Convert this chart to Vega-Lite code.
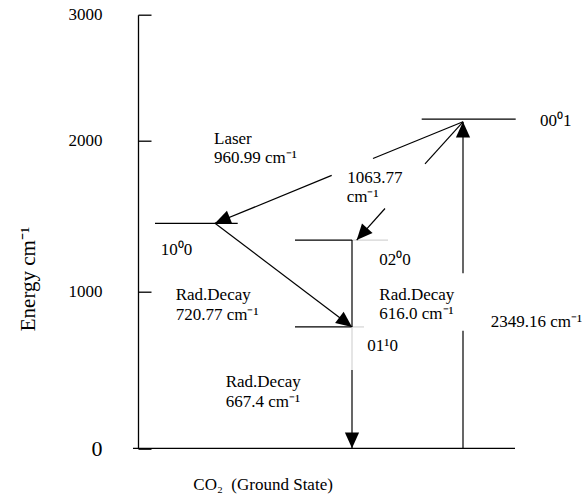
{
  "$schema": "https://vega.github.io/schema/vega-lite/v6.json",
  "width": 447,
  "height": 433.6,
  "autosize": {"type": "none"},
  "padding": {"left": 138, "top": 14.7, "right": 0, "bottom": 48.7},
  "background": "white",
  "config": {"view": {"stroke": null}, "font": "Liberation Serif"},
  "datasets": {
    "segments": [
      {"part": "ground state", "x": -5, "x2": 377, "y": 0, "y2": 0, "kind": "line"},
      {"part": "00^0 1", "x": 283.7, "x2": 377.7, "y": 2172, "y2": 2172, "kind": "line"},
      {"part": "10^0 0", "x": 17, "x2": 99.7, "y": 1453, "y2": 1453, "kind": "line"},
      {"part": "02^0 0", "x": 157, "x2": 214, "y": 1342, "y2": 1342, "kind": "line"},
      {"part": "02^0 0 tail", "x": 214, "x2": 250, "y": 1342, "y2": 1342, "kind": "trace"},
      {"part": "01^1 0", "x": 157, "x2": 214, "y": 775, "y2": 775, "kind": "line"},
      {"part": "01^1 0 tail", "x": 214, "x2": 226, "y": 775, "y2": 775, "kind": "trace"},
      {"part": "laser upper", "x": 325, "x2": 235, "y": 2150, "y2": 1882, "kind": "line"},
      {"part": "laser lower", "x": 193.7, "x2": 77, "y": 1770, "y2": 1453, "kind": "line"},
      {"part": "1063.77 upper", "x": 325, "x2": 287, "y": 2150, "y2": 1846, "kind": "line"},
      {"part": "1063.77 lower", "x": 247, "x2": 218.7, "y": 1551, "y2": 1342, "kind": "line"},
      {"part": "720.77 decay", "x": 77, "x2": 214, "y": 1453, "y2": 775, "kind": "line"},
      {"part": "616.0 decay", "x": 214, "x2": 214, "y": 1342, "y2": 775, "kind": "line"},
      {"part": "667.4 decay faint", "x": 214, "x2": 214, "y": 775, "y2": 500, "kind": "trace"},
      {"part": "667.4 decay", "x": 214, "x2": 214, "y": 500, "y2": 0, "kind": "line"},
      {"part": "pump lower", "x": 325, "x2": 325, "y": 0, "y2": 750, "kind": "line"},
      {"part": "pump upper", "x": 325, "x2": 325, "y": 1122, "y2": 2150, "kind": "line"}
    ],
    "heads": [
      {"transition": "laser 960.99", "x": 77, "y": 1453, "heading": 247.75},
      {"transition": "1063.77", "x": 218.7, "y": 1342, "heading": 222},
      {"transition": "720.77", "x": 214, "y": 775, "heading": 127},
      {"transition": "667.4", "x": 214, "y": 0, "heading": 180},
      {"transition": "2349.16", "x": 325, "y": 2150, "heading": 0}
    ],
    "labels": [
      {"text": "Laser", "x": 76, "y": 1981},
      {"text": "960.99 cm⁻¹", "x": 76, "y": 1850},
      {"text": "1063.77", "x": 209.3, "y": 1718},
      {"text": "cm⁻¹", "x": 208.7, "y": 1596},
      {"text": "10⁰0", "x": 22.7, "y": 1243},
      {"text": "02⁰0", "x": 241.3, "y": 1177},
      {"text": "Rad.Decay", "x": 37.7, "y": 947},
      {"text": "720.77 cm⁻¹", "x": 37.7, "y": 819},
      {"text": "Rad.Decay", "x": 241.3, "y": 947},
      {"text": "616.0 cm⁻¹", "x": 241.3, "y": 824},
      {"text": "2349.16 cm⁻¹", "x": 352.7, "y": 777},
      {"text": "01¹0", "x": 229.3, "y": 623},
      {"text": "Rad.Decay", "x": 87.7, "y": 391},
      {"text": "667.4 cm⁻¹", "x": 87.7, "y": 264},
      {"text": "00⁰1", "x": 402, "y": 2117},
      {"text": "CO₂\u00a0 (Ground State)", "x": 55.3, "y": -266}
    ]
  },
  "layer": [
    {
      "data": {"name": "segments"},
      "mark": {"type": "rule", "strokeWidth": 1.2},
      "encoding": {
        "x": {"field": "x", "type": "quantitative", "scale": {"domain": [0, 447], "nice": false, "zero": false}, "axis": null},
        "x2": {"field": "x2"},
        "y": {
          "field": "y",
          "type": "quantitative",
          "scale": {"domain": [0, 1000, 2000, 3000], "range": [433.6, 277, 126, 0], "nice": false, "zero": false},
          "axis": {
            "values": [0, 1000, 2000, 3000],
            "format": "d",
            "grid": false,
            "domainColor": "black",
            "domainWidth": 1.3,
            "tickColor": "black",
            "tickWidth": 1.3,
            "tickSize": -13,
            "labelPadding": 49,
            "labelFont": "Liberation Serif",
            "labelFontSize": {"expr": "datum.value === 0 ? 22 : 17"},
            "labelColor": "black",
            "labelBaseline": "middle",
            "title": "Energy cm⁻¹",
            "titleFont": "Liberation Serif",
            "titleFontSize": 21,
            "titleFontWeight": "normal",
            "titleColor": "black",
            "titleAngle": -90,
            "titleX": -110,
            "titleY": 263.8,
            "titleAlign": "center",
            "titleBaseline": "middle"
          }
        },
        "y2": {"field": "y2"},
        "color": {"field": "kind", "type": "nominal", "scale": {"domain": ["line", "trace"], "range": ["black", "#d4d4d4"]}, "legend": null}
      }
    },
    {
      "data": {"name": "heads"},
      "mark": {"type": "point", "shape": "M0,0 L-0.45,1 L0.45,1 Z", "filled": true, "size": 1000, "color": "black", "opacity": 1, "strokeWidth": 0},
      "encoding": {
        "x": {"field": "x", "type": "quantitative"},
        "y": {"field": "y", "type": "quantitative"},
        "angle": {"field": "heading", "type": "quantitative", "scale": null}
      }
    },
    {
      "data": {"name": "labels"},
      "mark": {"type": "text", "align": "left", "baseline": "alphabetic", "font": "Liberation Serif", "fontSize": 17, "color": "black"},
      "encoding": {
        "x": {"field": "x", "type": "quantitative"},
        "y": {"field": "y", "type": "quantitative"},
        "text": {"field": "text"}
      }
    }
  ]
}
